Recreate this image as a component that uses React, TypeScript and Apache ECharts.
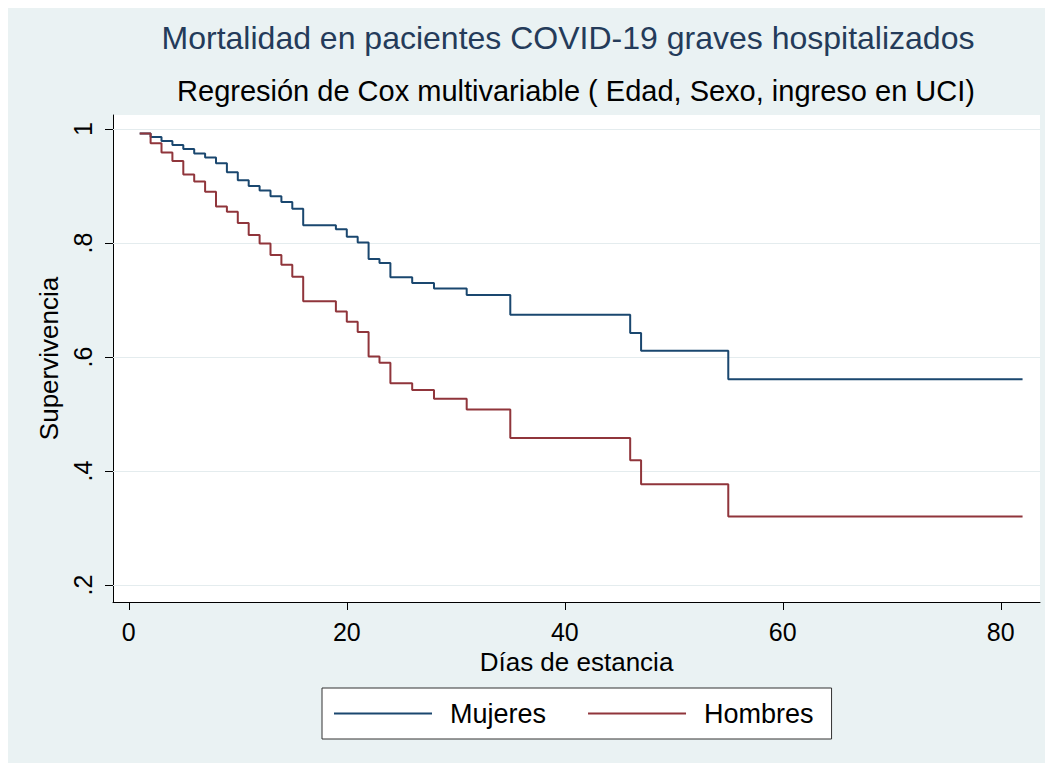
import React, { useEffect, useRef } from "react";
import * as echarts from "echarts";

const titleText = "Mortalidad en pacientes COVID-19 graves hospitalizados";
const subtitleText = "Regresión de Cox multivariable ( Edad, Sexo, ingreso en UCI)";
const xName = "Días de estancia";
const yName = "Supervivencia";
const seriesNames = ["Mujeres", "Hombres"];

const days = [1, 2, 3, 4, 5, 6, 7, 8, 9, 10, 11, 12, 13, 14, 15, 16, 19, 20, 21, 22, 23, 24, 26, 28, 31, 35, 46, 47, 55, 82];
const mujeres = [0.992, 0.986, 0.979, 0.972, 0.965, 0.957, 0.95, 0.94, 0.924, 0.91, 0.9, 0.892, 0.882, 0.872, 0.86, 0.831, 0.824, 0.811, 0.801, 0.772, 0.765, 0.74, 0.73, 0.72, 0.709, 0.674, 0.642, 0.611, 0.561, 0.561];
const hombres = [0.992, 0.975, 0.959, 0.944, 0.92, 0.908, 0.89, 0.864, 0.855, 0.835, 0.814, 0.799, 0.779, 0.762, 0.741, 0.698, 0.68, 0.662, 0.644, 0.601, 0.59, 0.554, 0.542, 0.527, 0.508, 0.458, 0.419, 0.377, 0.32, 0.32];

const xTicks = [0, 20, 40, 60, 80];
const yTicks = [0.2, 0.4, 0.6, 0.8, 1];

const FONT = "'Liberation Sans', Arial, Helvetica, sans-serif";

export default function App() {
  const ref = useRef<HTMLDivElement>(null);
  useEffect(() => {
    if (!ref.current) return;
    const chart = echarts.init(ref.current, null, { renderer: "svg" });
    const fmtY = (v: number) => (Math.abs(v - 1) < 1e-9 ? "1" : v.toFixed(1).replace(/^0/, ""));
    chart.setOption({
      animation: false,
      backgroundColor: "#eaf2f3",
      textStyle: { fontFamily: FONT },
      graphic: [
        {
          type: "text",
          x: 560,
          y: 30,
          style: {
            text: titleText,
            fontSize: 32,
            fontFamily: FONT,
            fill: "#243b5a",
            textAlign: "center",
            textVerticalAlign: "middle",
          },
        },
        {
          type: "text",
          x: 568,
          y: 83,
          style: {
            text: subtitleText,
            fontSize: 29,
            fontFamily: FONT,
            fill: "#000",
            textAlign: "center",
            textVerticalAlign: "middle",
          },
        },
      ],
      grid: {
        left: 105,
        top: 107,
        right: 5,
        bottom: 161,
        show: true,
        backgroundColor: "#ffffff",
        borderWidth: 0,
        containLabel: false,
      },
      legend: {
        data: seriesNames,
        left: 314,
        top: 680,
        orient: "horizontal",
        backgroundColor: "#ffffff",
        borderColor: "#333333",
        borderWidth: 1,
        borderRadius: 0,
        padding: [12, 18, 12, 12],
        itemGap: 42,
        itemWidth: 98,
        itemHeight: 2,
        icon: "rect",
        textStyle: { fontSize: 27, color: "#000", fontFamily: FONT, padding: [0, 0, 0, 13] },
      },
      xAxis: {
        type: "value",
        min: -1.45,
        max: 83.6,
        name: xName,
        nameLocation: "middle",
        nameGap: 45,
        nameTextStyle: { fontSize: 26, color: "#000", fontFamily: FONT },
        axisLine: { show: true, onZero: false, lineStyle: { color: "#000", width: 1 } },
        axisTick: { show: true, length: 8, customValues: xTicks, lineStyle: { color: "#000" } },
        axisLabel: {
          customValues: xTicks,
          fontSize: 25,
          color: "#000",
          margin: 17,
          fontFamily: FONT,
        },
        splitLine: { show: false },
      },
      yAxis: {
        type: "value",
        min: 0.1702,
        max: 1.0246,
        name: yName,
        nameLocation: "middle",
        nameGap: 50,
        nameRotate: 90,
        nameTextStyle: { fontSize: 26, color: "#000", fontFamily: FONT },
        axisLine: { show: true, onZero: false, lineStyle: { color: "#000", width: 1 } },
        axisTick: { show: true, length: 8, customValues: yTicks, lineStyle: { color: "#000" } },
        axisLabel: {
          customValues: yTicks,
          rotate: 90,
          fontSize: 25,
          color: "#000",
          margin: 18,
          fontFamily: FONT,
          formatter: (v: number) => fmtY(v),
        },
        splitLine: { show: false },
      },
      series: [
        {
          name: "grid",
          type: "line",
          data: [],
          silent: true,
          markLine: {
            silent: true,
            symbol: ["none", "none"],
            z: 1,
            label: { show: false },
            lineStyle: { color: "#e4ecee", type: "solid", width: 1 },
            data: yTicks.map((v) => ({ yAxis: v })),
          },
        },
        {
          name: seriesNames[0],
          type: "line",
          step: "end",
          symbol: "none",
          color: "#1a476f",
          lineStyle: { color: "#1a476f", width: 2 },
          data: days.map((d, i) => [d, mujeres[i]]),
        },
        {
          name: seriesNames[1],
          type: "line",
          step: "end",
          symbol: "none",
          color: "#90353b",
          lineStyle: { color: "#90353b", width: 2 },
          data: days.map((d, i) => [d, hombres[i]]),
        },
      ],
    });
    return () => chart.dispose();
  }, []);
  return <div ref={ref} style={{ width: 1037, height: 755 }} />;
}
